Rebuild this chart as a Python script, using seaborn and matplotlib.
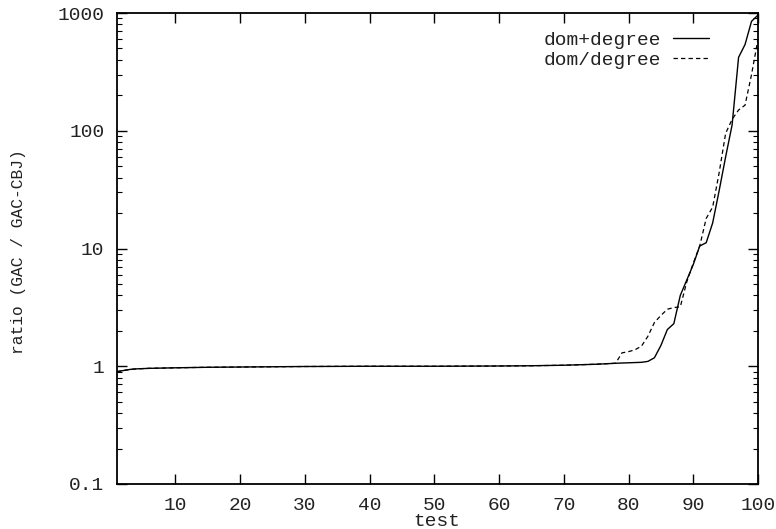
import matplotlib
matplotlib.use("Agg")
import matplotlib.pyplot as plt
import matplotlib.ticker as mticker
import seaborn as sns
import pandas as pd

# test index and ratio values
tests = [1, 2, 3, 4, 6, 10, 15, 20, 25, 30, 40, 50, 60, 65, 70, 75, 78,
         79, 80, 81, 82, 83, 84, 85, 86, 87, 88, 89, 90, 91, 92, 93, 94,
         95, 96, 97, 98, 99, 100]
dom_plus = [0.90, 0.92, 0.94, 0.95, 0.96, 0.97, 0.98, 0.985, 0.99, 0.995,
            1.0, 1.0, 1.005, 1.01, 1.02, 1.04, 1.06,
            1.065, 1.07, 1.075, 1.08, 1.10, 1.18, 1.5, 2.05, 2.3, 4.0, 5.4,
            7.3, 10.5, 11.2, 16.5, 31.0, 60.0, 112.0, 420.0, 540.0, 850.0, 960.0]
dom_div = [0.90, 0.92, 0.94, 0.95, 0.96, 0.97, 0.98, 0.985, 0.99, 0.995,
           1.0, 1.0, 1.005, 1.01, 1.02, 1.04, 1.06,
           1.30, 1.33, 1.38, 1.48, 1.8, 2.35, 2.7, 3.05, 3.15, 3.2, 5.2,
           7.5, 10.5, 18.0, 22.5, 44.0, 95.0, 125.0, 150.0, 165.0, 300.0, 600.0]

df = pd.DataFrame({"test": tests, "dom+degree": dom_plus, "dom/degree": dom_div})

sns.set_style("ticks")
plt.rcParams["font.family"] = ["Liberation Mono", "DejaVu Sans Mono"]
plt.rcParams["font.size"] = 14

W, H = 776, 529
fig, ax = plt.subplots(figsize=(W / 100, H / 100), dpi=100)
fig.subplots_adjust(left=117 / W, right=758 / W, top=1 - 13 / H, bottom=1 - 484 / H)

sns.lineplot(data=df, x="test", y="dom+degree", ax=ax, color="black",
             linewidth=1.0, label="dom+degree")
sns.lineplot(data=df, x="test", y="dom/degree", ax=ax, color="black",
             linewidth=0.9, label="dom/degree")
ax.lines[1].set_dashes([3.5, 2.5])

ax.set_yscale("log")
ax.set_xlim(1, 100)
ax.set_ylim(0.1, 1000)
ax.set_xticks(range(10, 101, 10))
ax.set_yticks([0.1, 1, 10, 100, 1000])
ax.yaxis.set_major_formatter(mticker.FuncFormatter(lambda v, p: "%g" % v))
ax.yaxis.set_minor_locator(mticker.LogLocator(base=10, subs=range(2, 10)))
ax.yaxis.set_minor_formatter(mticker.NullFormatter())

ax.tick_params(which="major", direction="in", length=7, width=1,
               top=True, right=True, labelsize=14, pad=9, colors="black",
               labelcolor="#222222")
ax.tick_params(which="minor", direction="in", length=3.5, width=0.8,
               right=True, colors="black")
for s in ax.spines.values():
    s.set_linewidth(1.3)
    s.set_color("black")

ax.set_xlabel("")
ax.set_ylabel("")
fig.text(437 / W, 1 - 522 / H, "test", fontsize=14, color="#222222",
         ha="center", va="center")
fig.text(19 / W, 1 - 252 / H, "ratio (GAC / GAC-CBJ)", fontsize=11.7,
         color="#222222", rotation=90, ha="center", va="center")

leg = ax.legend(loc="upper right", frameon=False, markerfirst=False,
                handlelength=1.85, handletextpad=0.6, labelspacing=0.15,
                borderpad=0, borderaxespad=0,
                bbox_to_anchor=(709 / W, 1 - 31 / H),
                bbox_transform=fig.transFigure, fontsize=14)
for t in leg.get_texts():
    t.set_color("#222222")

fig.savefig("out.png", dpi=100)
